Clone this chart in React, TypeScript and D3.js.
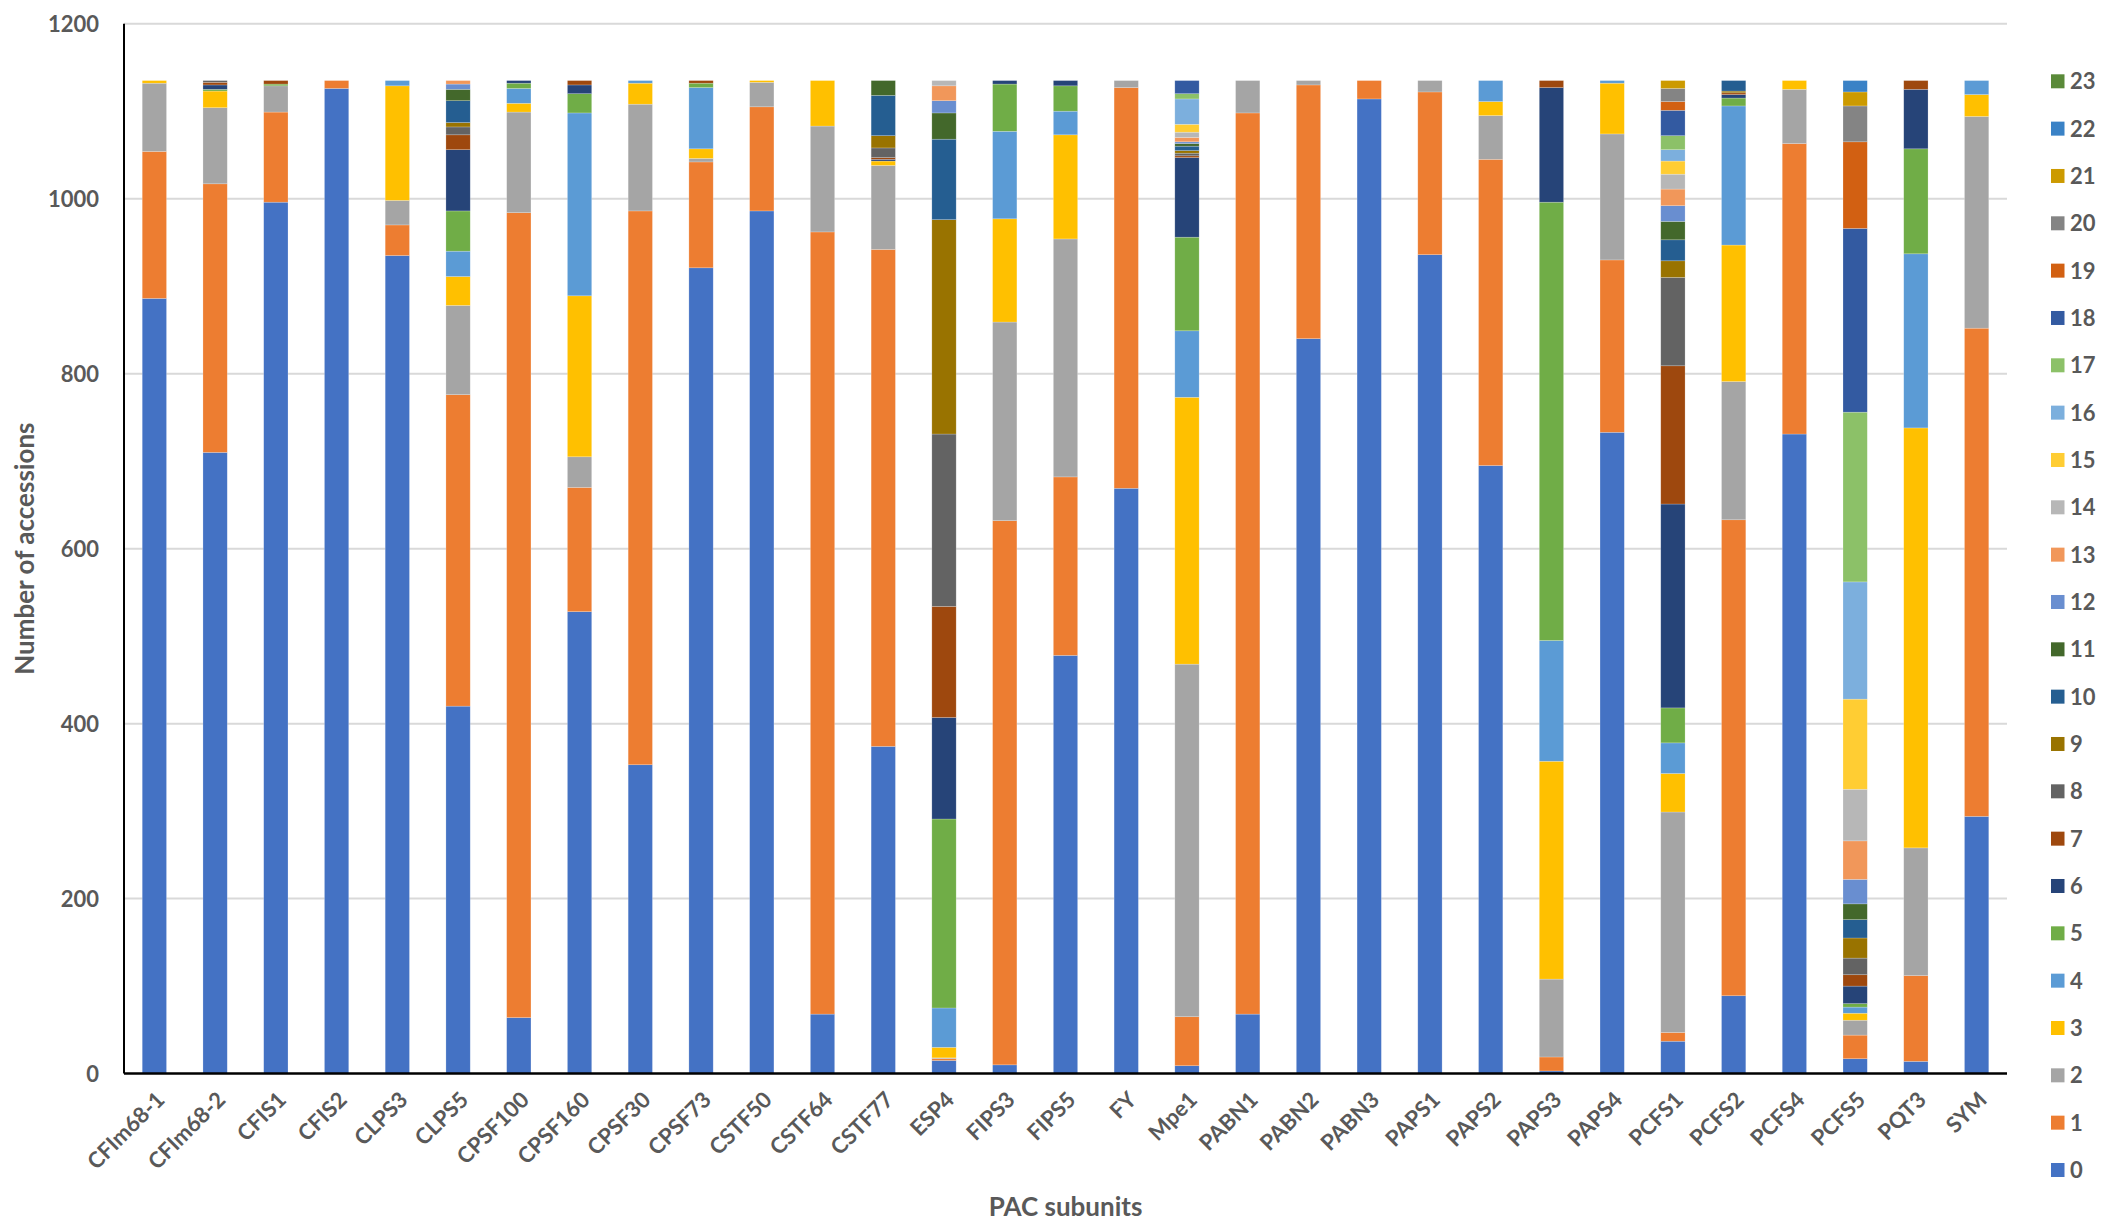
import * as d3 from "d3";

// PAC subunits (x axis)
const categories = [
  "CFIm68-1", "CFIm68-2", "CFIS1", "CFIS2", "CLPS3", "CLPS5", "CPSF100", "CPSF160",
  "CPSF30", "CPSF73", "CSTF50", "CSTF64", "CSTF77", "ESP4", "FIPS3", "FIPS5", "FY",
  "Mpe1", "PABN1", "PABN2", "PABN3", "PAPS1", "PAPS2", "PAPS3", "PAPS4", "PCFS1",
  "PCFS2", "PCFS4", "PCFS5", "PQT3", "SYM",
];

// number of accessions per class 0..23, one array per class
const v0 = [886, 710, 996, 1126, 935, 420, 64, 528, 353, 921, 986, 68, 374, 15, 10, 478, 669, 9, 68, 840, 1114, 936, 695, 3, 733, 37, 89, 731, 17, 14, 294];
const v1 = [168, 307, 103, 9, 35, 356, 920, 142, 633, 121, 119, 894, 568, 2, 622, 204, 458, 56, 1030, 290, 21, 186, 350, 16, 197, 10, 544, 332, 27, 98, 558];
const v2 = [78, 87, 30, 0, 28, 102, 115, 35, 122, 4, 28, 121, 96, 1, 227, 272, 8, 403, 37, 5, 0, 13, 50, 89, 144, 252, 158, 62, 17, 146, 242];
const v3 = [3, 19, 0, 0, 131, 33, 10, 184, 24, 11, 2, 52, 5, 12, 118, 119, 0, 305, 0, 0, 0, 0, 16, 249, 58, 44, 156, 10, 8, 480, 25];
const v4 = [0, 0, 0, 0, 6, 29, 17, 209, 3, 70, 0, 0, 0, 45, 100, 27, 0, 76, 0, 0, 0, 0, 24, 138, 3, 35, 159, 0, 7, 199, 16];
const v5 = [0, 2, 2, 0, 0, 46, 6, 22, 0, 5, 0, 0, 0, 216, 54, 29, 0, 107, 0, 0, 0, 0, 0, 501, 0, 40, 9, 0, 4, 120, 0];
const v6 = [0, 5, 0, 0, 0, 70, 3, 10, 0, 0, 0, 0, 2, 116, 4, 6, 0, 91, 0, 0, 0, 0, 0, 131, 0, 233, 4, 0, 20, 68, 0];
const v7 = [0, 3, 4, 0, 0, 17, 0, 5, 0, 3, 0, 0, 2, 127, 0, 0, 0, 2, 0, 0, 0, 0, 0, 8, 0, 158, 2, 0, 13, 10, 0];
const v8 = [0, 2, 0, 0, 0, 9, 0, 0, 0, 0, 0, 0, 11, 197, 0, 0, 0, 3, 0, 0, 0, 0, 0, 0, 0, 101, 0, 0, 19, 0, 0];
const v9 = [0, 0, 0, 0, 0, 5, 0, 0, 0, 0, 0, 0, 14, 245, 0, 0, 0, 3, 0, 0, 0, 0, 0, 0, 0, 19, 2, 0, 23, 0, 0];
const v10 = [0, 0, 0, 0, 0, 25, 0, 0, 0, 0, 0, 0, 46, 92, 0, 0, 0, 5, 0, 0, 0, 0, 0, 0, 0, 24, 12, 0, 21, 0, 0];
const v11 = [0, 0, 0, 0, 0, 13, 0, 0, 0, 0, 0, 0, 17, 30, 0, 0, 0, 3, 0, 0, 0, 0, 0, 0, 0, 21, 0, 0, 18, 0, 0];
const v12 = [0, 0, 0, 0, 0, 6, 0, 0, 0, 0, 0, 0, 0, 14, 0, 0, 0, 2, 0, 0, 0, 0, 0, 0, 0, 18, 0, 0, 28, 0, 0];
const v13 = [0, 0, 0, 0, 0, 4, 0, 0, 0, 0, 0, 0, 0, 17, 0, 0, 0, 5, 0, 0, 0, 0, 0, 0, 0, 19, 0, 0, 44, 0, 0];
const v14 = [0, 0, 0, 0, 0, 0, 0, 0, 0, 0, 0, 0, 0, 6, 0, 0, 0, 6, 0, 0, 0, 0, 0, 0, 0, 17, 0, 0, 59, 0, 0];
const v15 = [0, 0, 0, 0, 0, 0, 0, 0, 0, 0, 0, 0, 0, 0, 0, 0, 0, 9, 0, 0, 0, 0, 0, 0, 0, 15, 0, 0, 103, 0, 0];
const v16 = [0, 0, 0, 0, 0, 0, 0, 0, 0, 0, 0, 0, 0, 0, 0, 0, 0, 29, 0, 0, 0, 0, 0, 0, 0, 13, 0, 0, 134, 0, 0];
const v17 = [0, 0, 0, 0, 0, 0, 0, 0, 0, 0, 0, 0, 0, 0, 0, 0, 0, 6, 0, 0, 0, 0, 0, 0, 0, 16, 0, 0, 194, 0, 0];
const v18 = [0, 0, 0, 0, 0, 0, 0, 0, 0, 0, 0, 0, 0, 0, 0, 0, 0, 15, 0, 0, 0, 0, 0, 0, 0, 29, 0, 0, 210, 0, 0];
const v19 = [0, 0, 0, 0, 0, 0, 0, 0, 0, 0, 0, 0, 0, 0, 0, 0, 0, 0, 0, 0, 0, 0, 0, 0, 0, 10, 0, 0, 99, 0, 0];
const v20 = [0, 0, 0, 0, 0, 0, 0, 0, 0, 0, 0, 0, 0, 0, 0, 0, 0, 0, 0, 0, 0, 0, 0, 0, 0, 15, 0, 0, 41, 0, 0];
const v21 = [0, 0, 0, 0, 0, 0, 0, 0, 0, 0, 0, 0, 0, 0, 0, 0, 0, 0, 0, 0, 0, 0, 0, 0, 0, 9, 0, 0, 16, 0, 0];
const v22 = [0, 0, 0, 0, 0, 0, 0, 0, 0, 0, 0, 0, 0, 0, 0, 0, 0, 0, 0, 0, 0, 0, 0, 0, 0, 0, 0, 0, 13, 0, 0];
const v23 = [0, 0, 0, 0, 0, 0, 0, 0, 0, 0, 0, 0, 0, 0, 0, 0, 0, 0, 0, 0, 0, 0, 0, 0, 0, 0, 0, 0, 0, 0, 0];

const seriesKeys = ["0", "1", "2", "3", "4", "5", "6", "7", "8", "9", "10", "11", "12", "13", "14", "15", "16", "17", "18", "19", "20", "21", "22", "23"];
const yTicks = [0, 200, 400, 600, 800, 1000, 1200];

const colors = [
  "#4472C4", "#ED7D31", "#A5A5A5", "#FFC000", "#5B9BD5", "#70AD47",
  "#264478", "#9E480E", "#636363", "#997300", "#255E91", "#43682B",
  "#698ED0", "#F1975A", "#B7B7B7", "#FFCD33", "#7CAFDD", "#8CC168",
  "#335AA1", "#D26012", "#848484", "#CC9A00", "#3A82C6", "#5A8A39",
];

const W = 2116, H = 1232;
const left = 124, right = 2007, top = 23.7, bottom = 1073.6;
const font = "Lato, 'Open Sans', sans-serif";
const textColor = "#595959";

export default function App() {
  const cols = [v0, v1, v2, v3, v4, v5, v6, v7, v8, v9, v10, v11, v12, v13, v14, v15, v16, v17, v18, v19, v20, v21, v22, v23];
  const rows = categories.map((c, i) => {
    const r: any = { cat: c };
    seriesKeys.forEach((k, j) => (r[k] = cols[j][i]));
    return r;
  });

  const stack = d3.stack().keys(seriesKeys)(rows);

  const x = d3.scaleBand().domain(categories).range([left, right]).paddingInner(0.6).paddingOuter(0.3);
  const y = d3.scaleLinear().domain([0, 1200]).range([bottom, top]);

  const legendY = d3.scaleLinear().domain([23, 0]).range([81.3, 1170]);

  return (
    <svg width={W} height={H} style={{ position: "absolute", left: 0, top: 0, background: "#fff" }}>
      {/* gridlines */}
      {yTicks.filter((t) => t > 0).map((t) => (
        <line key={t} x1={left} x2={right} y1={y(t)} y2={y(t)} stroke="#D9D9D9" strokeWidth={2} />
      ))}

      {/* stacked bars */}
      {stack.map((layer, j) => (
        <g key={layer.key} fill={colors[j]}>
          {layer.map((d, i) =>
            d[1] - d[0] > 0 ? (
              <rect
                key={i}
                x={x(categories[i])}
                width={x.bandwidth()}
                y={y(d[1])}
                height={y(d[0]) - y(d[1])}
                stroke="#ffffff"
                strokeOpacity={0.35}
                strokeWidth={0.6}
              />
            ) : null
          )}
        </g>
      ))}

      {/* axes */}
      <line x1={left} x2={left} y1={top} y2={bottom} stroke="#000" strokeWidth={2} />
      <line x1={left} x2={right} y1={bottom} y2={bottom} stroke="#000" strokeWidth={2.5} />

      {/* y tick labels */}
      {yTicks.map((t) => (
        <text key={t} x={99} y={y(t)} dy="0.36em" textAnchor="end" fontFamily={font} fontWeight="bold" fontSize={22} fill={textColor}>
          {t}
        </text>
      ))}

      {/* x tick labels */}
      {categories.map((c) => {
        const cx = (x(c) as number) + x.bandwidth() / 2;
        return (
          <text
            key={c}
            transform={`translate(${cx + 6},${bottom + 22}) rotate(-45)`}
            dy="0.36em"
            textAnchor="end"
            fontFamily={font}
            fontWeight="bold"
            fontSize={22}
            fill={textColor}
          >
            {c}
          </text>
        );
      })}

      {/* axis titles */}
      <text x={(left + right) / 2} y={1216} textAnchor="middle" fontFamily={font} fontWeight="bold" fontSize={26} fill={textColor}>
        PAC subunits
      </text>
      <text transform={`translate(34,${(top + bottom) / 2}) rotate(-90)`} textAnchor="middle" fontFamily={font} fontWeight="bold" fontSize={26} fill={textColor}>
        Number of accessions
      </text>

      {/* legend */}
      {seriesKeys.map((k, j) => (
        <g key={k} transform={`translate(2051,${legendY(j)})`}>
          <rect x={0} y={-7} width={13.5} height={14} fill={colors[j]} />
          <text x={19} y={0} dy="0.36em" fontFamily={font} fontWeight="bold" fontSize={22} fill={textColor}>
            {k}
          </text>
        </g>
      ))}
    </svg>
  );
}
